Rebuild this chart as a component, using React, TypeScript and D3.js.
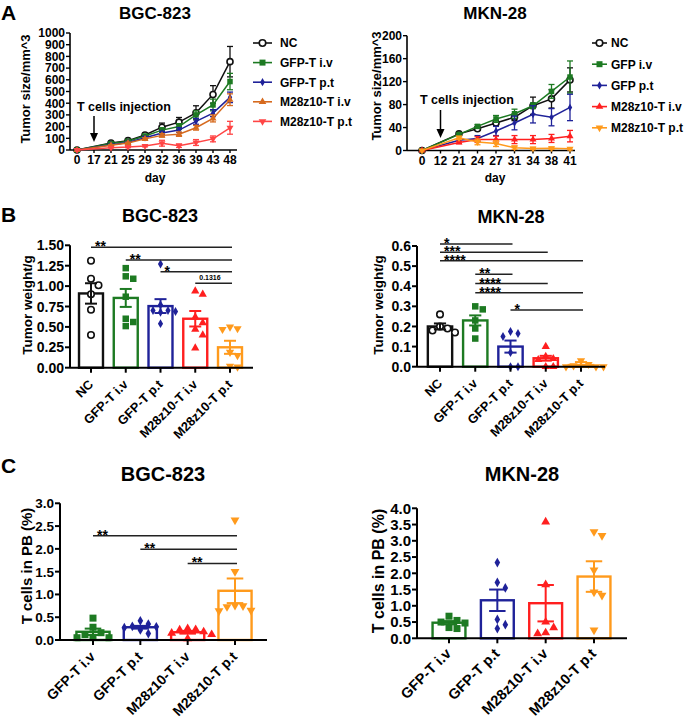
import React from "react";
import * as d3 from "d3";

const FONT = "'Liberation Sans', Arial, Helvetica, sans-serif";

const C_BLACK = "#111111";
const C_GREEN = "#1d7a22";
const C_BLUE = "#1f2299";
const C_RED = "#ff1f1f";
const C_ORANGE = "#ff9a1c";
const C_BROWN = "#d66a1e";
const C_PINK = "#ff4545";

// ---------- Panel A : BGC-823 growth ----------
const aBgcTickDays = ["0", "17", "21", "25", "29", "32", "36", "39", "43", "48"];
const aBgcDays = ["0", "21", "25", "29", "32", "36", "39", "43", "48"];
const aBgcNames = ["NC", "GFP-T i.v", "GFP-T p.t", "M28z10-T i.v", "M28z10-T p.t"];
const aBgcNC = [0, 60, 80, 128, 195, 238, 318, 475, 755];
const aBgcNCErr = [0, 8, 10, 15, 35, 40, 60, 75, 130];
const aBgcGfpIv = [0, 55, 75, 120, 170, 200, 300, 385, 585];
const aBgcGfpIvErr = [0, 5, 8, 12, 20, 25, 35, 50, 70];
const aBgcGfpPt = [0, 45, 65, 105, 145, 170, 245, 315, 450];
const aBgcGfpPtErr = [0, 5, 6, 10, 15, 20, 25, 30, 45];
const aBgcM28Iv = [0, 40, 60, 95, 125, 135, 190, 270, 430];
const aBgcM28IvErr = [0, 5, 6, 10, 15, 18, 20, 30, 50];
const aBgcM28Pt = [0, 20, 25, 35, 58, 37, 64, 95, 190];
const aBgcM28PtErr = [0, 3, 5, 8, 25, 15, 25, 25, 55];
const aBgcYTicks = [0, 100, 200, 300, 400, 500, 600, 700, 800, 900, 1000];

// ---------- Panel A : MKN-28 growth ----------
const aMknTickDays = ["0", "12", "21", "24", "27", "31", "34", "38", "41"];
const aMknDays = ["0", "21", "24", "27", "31", "34", "38", "41"];
const aMknNames = ["NC", "GFP i.v", "GFP p.t", "M28z10-T i.v", "M28z10-T p.t"];
const aMknNC = [0, 29, 38, 48, 58, 78, 90, 123];
const aMknNCErr = [0, 2, 3, 5, 6, 15, 16, 21];
const aMknGfpIv = [0, 28, 42, 55, 64, 78, 103, 128];
const aMknGfpIvErr = [0, 2, 3, 6, 8, 5, 12, 28];
const aMknGfpPt = [0, 18, 21, 34, 48, 63, 58, 75];
const aMknGfpPtErr = [0, 2, 5, 8, 12, 15, 15, 23];
const aMknM28Iv = [0, 14, 19, 19, 19, 19, 21, 25];
const aMknM28IvErr = [0, 2, 5, 6, 7, 7, 7, 10];
const aMknM28Pt = [0, 22, 15, 12, 5, 3.5, 4, 3];
const aMknM28PtErr = [0, 3, 5, 5, 3, 2, 2, 2];
const aMknYTicks = [0, 40, 80, 120, 160, 200];

// ---------- Panel B : tumor weight ----------
const bCats = ["NC", "GFP-T i.v", "GFP-T p.t", "M28z10-T i.v", "M28z10-T p.t"];
const bBgcMean = [0.91, 0.855, 0.755, 0.6, 0.25];
const bBgcSem = [0.125, 0.11, 0.085, 0.095, 0.08];
const bBgcPtsNC = [1.31, 1.09, 1.01, 0.9, 0.71, 0.4];
const bBgcPtsGfpIv = [1.22, 1.12, 1.09, 0.87, 0.6, 0.56, 0.51];
const bBgcPtsGfpPt = [1.27, 0.77, 0.7, 0.69, 0.7, 0.68, 0.54];
const bBgcPtsM28Iv = [0.94, 0.9, 0.62, 0.55, 0.47, 0.4, 0.24];
const bBgcPtsM28Pt = [0.5, 0.48, 0.47, 0.19, 0.15, 0.02, 0.01];
const bBgcYTicks = [0, 0.25, 0.5, 0.75, 1.0, 1.25, 1.5];
const bBgcSigFrom = [0, 1, 2, 3];
const bBgcSigTo = [4, 4, 4, 4];
const bBgcSigLevel = [1.475, 1.32, 1.176, 1.034];
const bBgcSigLabel = ["**", "**", "*", "0.1316"];

const bMknMean = [0.2, 0.23, 0.1, 0.042, 0.008];
const bMknSem = [0.015, 0.025, 0.03, 0.012, 0.015];
const bMknPtsNC = [0.26, 0.2, 0.19, 0.17, 0.18];
const bMknPtsGfpIv = [0.3, 0.285, 0.23, 0.19, 0.14];
const bMknPtsGfpPt = [0.175, 0.165, 0.15, 0.07, 0.0, 0.0];
const bMknPtsM28Iv = [0.1, 0.05, 0.04, 0.035, 0.0, 0.0];
const bMknPtsM28Pt = [0.03, 0.012, 0.005, 0.0, 0.0, 0.0];
const bMknYTicks = [0, 0.1, 0.2, 0.3, 0.4, 0.5, 0.6];
const bMknSigFrom = [0, 0, 0, 1, 1, 1, 2];
const bMknSigTo = [2, 3, 4, 2, 3, 4, 4];
const bMknSigLevel = [0.61, 0.569, 0.527, 0.46, 0.413, 0.367, 0.282];
const bMknSigLabel = ["*", "***", "****", "**", "****", "****", "*"];

// ---------- Panel C : T cells in PB ----------
const cCats = ["GFP-T i.v", "GFP-T p.t", "M28z10-T i.v", "M28z10-T p.t"];
const cBgcMean = [0.18, 0.28, 0.17, 1.08];
const cBgcSem = [0.07, 0.03, 0.03, 0.27];
const cBgcPtsGfpIv = [0.48, 0.28, 0.16, 0.12, 0.06, 0.05, 0.05];
const cBgcPtsGfpPt = [0.42, 0.35, 0.3, 0.29, 0.27, 0.22, 0.14];
const cBgcPtsM28Iv = [0.25, 0.23, 0.22, 0.18, 0.15, 0.12, 0.03];
const cBgcPtsM28Pt = [2.63, 1.5, 0.76, 0.75, 0.73, 0.65, 0.64];
const cBgcYTicks = [0, 0.5, 1.0, 1.5, 2.0, 2.5, 3.0];
const cBgcSigFrom = [0, 1, 2];
const cBgcSigTo = [3, 3, 3];
const cBgcSigLevel = [2.29, 1.99, 1.68];
const cBgcSigLabel = ["**", "**", "**"];

const cMknMean = [0.48, 1.17, 1.08, 1.9];
const cMknSem = [0.05, 0.33, 0.56, 0.47];
const cMknPtsGfpIv = [0.68, 0.55, 0.5, 0.47, 0.33, 0.3];
const cMknPtsGfpPt = [2.33, 1.72, 1.55, 0.58, 0.42, 0.3];
const cMknPtsM28Iv = [3.58, 1.65, 0.5, 0.33, 0.14, 0.17];
const cMknPtsM28Pt = [3.28, 3.16, 2.1, 1.42, 1.32, 0.25];
const cMknYTicks = [0, 0.5, 1.0, 1.5, 2.0, 2.5, 3.0, 3.5, 4.0];

type Shape = "circle" | "square" | "diamond" | "triUp" | "triDown";

function symbolPath(shape: Shape, size: number): string {
  let type: any;
  let area: number;
  switch (shape) {
    case "circle":
      type = d3.symbolCircle;
      area = Math.PI * (size / 2) * (size / 2);
      break;
    case "square":
      type = d3.symbolSquare;
      area = size * size;
      break;
    case "diamond":
      type = d3.symbolDiamond;
      area = size * size * 0.55;
      break;
    default:
      type = d3.symbolTriangle;
      area = size * size * 0.7;
  }
  return d3.symbol().type(type).size(area)() as string;
}

function Marker(props: { shape: Shape; x: number; y: number; size: number; color: string; open?: boolean }) {
  const { shape, x, y, size, color, open } = props;
  return (
    <path
      d={symbolPath(shape, size)}
      transform={`translate(${x},${y})${shape === "triDown" ? " rotate(180)" : ""}`}
      fill={open ? "#fff" : color}
      stroke={color}
      strokeWidth={open ? 1.6 : 0}
    />
  );
}

function dodge(ys: number[], step: number, minDist: number): number[] {
  const order = ys.map((y, i) => [y, i] as [number, number]).sort((a, b) => a[0] - b[0]);
  const placed: { x: number; y: number }[] = [];
  const out = new Array(ys.length).fill(0);
  const cands = [0];
  for (let j = 1; j < 8; j++) cands.push(j * step, -j * step);
  for (const [y, i] of order) {
    let dx = 0;
    for (const c of cands) {
      if (placed.every((p) => Math.hypot(p.x - c, p.y - y) >= minDist)) {
        dx = c;
        break;
      }
    }
    placed.push({ x: dx, y });
    out[i] = dx;
  }
  return out;
}

type Series = { name: string; values: number[]; errors: number[]; color: string; shape: Shape; open?: boolean };

function LinePanel(p: {
  letter?: string;
  title: string;
  titleX: number;
  tickDays: string[];
  days: string[];
  series: Series[];
  yMax: number;
  yTicks: number[];
  yAxisX: number;
  xRange: [number, number];
  xAxisEnd: number;
  yRange: [number, number];
  yLabel: string;
  yLabelX: number;
  yLabelY: number;
  injDay: string;
  injTextX: number;
  injTextY: number;
  arrow: [number, number];
  legendX: number;
  legendLine: number;
  legendTextX: number;
  legendY0: number;
  legendStep: number;
  dayX: number;
}) {
  const x = d3.scalePoint<string>().domain(p.tickDays).range(p.xRange);
  const y = d3.scaleLinear().domain([0, p.yMax]).range(p.yRange);
  const line = d3
    .line<[string, number]>()
    .x((d) => x(d[0]) as number)
    .y((d) => y(d[1]));
  const ax = x(p.injDay) as number;
  return (
    <g fontWeight="bold" fill="#000">
      {p.letter && (
        <text x={1} y={20} fontSize={21}>
          {p.letter}
        </text>
      )}
      <text x={p.titleX} y={19} fontSize={17} textAnchor="middle">
        {p.title}
      </text>
      <line x1={p.yAxisX} x2={p.yAxisX} y1={y(p.yMax)} y2={y(0)} stroke="#000" strokeWidth={1.6} />
      {p.yTicks.map((t) => (
        <g key={t}>
          <line x1={p.yAxisX - 4} x2={p.yAxisX} y1={y(t)} y2={y(t)} stroke="#000" strokeWidth={1.4} />
          <text x={p.yAxisX - 5} y={y(t)} dy="0.36em" textAnchor="end" fontSize={12}>
            {t}
          </text>
        </g>
      ))}
      <line x1={p.yAxisX} x2={p.xAxisEnd} y1={y(0)} y2={y(0)} stroke="#000" strokeWidth={1.6} />
      {p.tickDays.map((d) => (
        <g key={d}>
          <line x1={x(d)} x2={x(d)} y1={y(0)} y2={y(0) + 3} stroke="#000" strokeWidth={1.4} />
          <text x={x(d)} y={y(0) + 14} textAnchor="middle" fontSize={12}>
            {d}
          </text>
        </g>
      ))}
      <text x={p.dayX} y={182} textAnchor="middle" fontSize={12}>
        day
      </text>
      <text transform={`translate(${p.yLabelX},${p.yLabelY}) rotate(-90)`} textAnchor="middle" fontSize={13}>
        {p.yLabel}
      </text>
      <text x={p.injTextX} y={p.injTextY} fontSize={12.5}>
        T cells injection
      </text>
      <line x1={ax} x2={ax} y1={p.arrow[0]} y2={p.arrow[1] - 7} stroke="#000" strokeWidth={1.5} />
      <path d={`M${ax - 4},${p.arrow[1] - 9}L${ax + 4},${p.arrow[1] - 9}L${ax},${p.arrow[1]}Z`} fill="#000" />
      {p.series.map((s) => {
        const pts = p.days.map((d, i) => [d, s.values[i]] as [string, number]);
        return (
          <g key={s.name}>
            <path d={line(pts) as string} fill="none" stroke={s.color} strokeWidth={1.5} />
            {pts.map(([d, v], i) =>
              s.errors[i] > 0 ? (
                <g key={d} stroke={s.color} strokeWidth={1.3}>
                  <line x1={x(d)} x2={x(d)} y1={y(v - s.errors[i])} y2={y(v + s.errors[i])} />
                  <line x1={(x(d) as number) - 3} x2={(x(d) as number) + 3} y1={y(v + s.errors[i])} y2={y(v + s.errors[i])} />
                  <line x1={(x(d) as number) - 3} x2={(x(d) as number) + 3} y1={y(v - s.errors[i])} y2={y(v - s.errors[i])} />
                </g>
              ) : null
            )}
            {pts.map(([d, v]) => (
              <Marker key={d} shape={s.shape} x={x(d) as number} y={y(v)} size={s.shape === "circle" ? 6 : 5.5} color={s.color} open={s.open} />
            ))}
          </g>
        );
      })}
      {p.series.map((s, i) => {
        const ly = p.legendY0 + i * p.legendStep;
        return (
          <g key={"lg" + s.name}>
            <line x1={p.legendX} x2={p.legendX + p.legendLine} y1={ly} y2={ly} stroke={s.color} strokeWidth={1.6} />
            <Marker shape={s.shape} x={p.legendX + p.legendLine / 2} y={ly} size={s.shape === "circle" ? 6.5 : 6} color={s.color} open={s.open} />
            <text x={p.legendTextX} y={ly} dy="0.36em" fontSize={12}>
              {s.name}
            </text>
          </g>
        );
      })}
    </g>
  );
}

function BarPanel(p: {
  letter?: string;
  letterY?: number;
  title: string;
  titleX: number;
  titleY: number;
  titleSize: number;
  cats: string[];
  means: number[];
  sems: number[];
  points: number[][];
  colors: string[];
  shapes: Shape[];
  opens: boolean[];
  yMax: number;
  yTicks: number[];
  tickFmt: string;
  yAxisX: number;
  y0: number;
  y1: number;
  centers: [number, number];
  barFrac: number;
  xAxisEnd: number;
  yLabel: string;
  yLabelX: number;
  yLabelY: number;
  yLabelSize: number;
  tickSize: number;
  xLabelSize: number;
  xLabelDy: number;
  markerSize: number;
  sigFrom?: number[];
  sigTo?: number[];
  sigLevel?: number[];
  sigLabel?: string[];
}) {
  const x = d3.scalePoint<string>().domain(p.cats).range(p.centers);
  const bw = x.step() * p.barFrac;
  const y = d3.scaleLinear().domain([0, p.yMax]).range([p.y0, p.y1]);
  const fmt = d3.format(p.tickFmt);
  return (
    <g fontWeight="bold" fill="#000">
      {p.letter && (
        <text x={1} y={p.letterY} fontSize={21}>
          {p.letter}
        </text>
      )}
      <text x={p.titleX} y={p.titleY} fontSize={p.titleSize} textAnchor="middle">
        {p.title}
      </text>
      <text transform={`translate(${p.yLabelX},${p.yLabelY}) rotate(-90)`} textAnchor="middle" fontSize={p.yLabelSize}>
        {p.yLabel}
      </text>
      {p.cats.map((c, i) => {
        const cx = x(c) as number;
        const top = y(p.means[i]);
        const offs = dodge(p.points[i].map((v) => y(v)), p.markerSize + 1, p.markerSize + 0.8);
        const hi = y(p.means[i] + p.sems[i]);
        const lo = y(Math.max(0, p.means[i] - p.sems[i]));
        const cap = bw * 0.25;
        return (
          <g key={c}>
            <rect x={cx - bw / 2} y={top} width={bw} height={Math.max(0, y(0) - top)} fill="#fff" stroke={p.colors[i]} strokeWidth={2.4} />
            {p.points[i].map((v, j) => (
              <Marker key={j} shape={p.shapes[i]} x={cx + offs[j]} y={y(v)} size={p.markerSize} color={p.colors[i]} open={p.opens[i]} />
            ))}
            <g stroke={p.colors[i]} strokeWidth={2}>
              <line x1={cx} x2={cx} y1={hi} y2={lo} />
              <line x1={cx - cap} x2={cx + cap} y1={hi} y2={hi} />
              <line x1={cx - cap} x2={cx + cap} y1={lo} y2={lo} />
            </g>
          </g>
        );
      })}
      <line x1={p.yAxisX} x2={p.yAxisX} y1={y(p.yMax)} y2={y(0)} stroke="#000" strokeWidth={2} />
      {p.yTicks.map((t) => (
        <g key={t}>
          <line x1={p.yAxisX - 5} x2={p.yAxisX} y1={y(t)} y2={y(t)} stroke="#000" strokeWidth={2} />
          <text x={p.yAxisX - 6} y={y(t)} dy="0.36em" textAnchor="end" fontSize={p.tickSize}>
            {fmt(t)}
          </text>
        </g>
      ))}
      <line x1={p.yAxisX} x2={p.xAxisEnd} y1={y(0)} y2={y(0)} stroke="#000" strokeWidth={2} />
      {p.cats.map((c) => {
        const cx = x(c) as number;
        return (
          <g key={"xl" + c}>
            <line x1={cx} x2={cx} y1={y(0)} y2={y(0) + 5} stroke="#000" strokeWidth={2} />
            <text transform={`translate(${cx + 3},${y(0) + p.xLabelDy}) rotate(-45)`} textAnchor="end" fontSize={p.xLabelSize}>
              {c}
            </text>
          </g>
        );
      })}
      {(p.sigFrom || []).map((f, k) => {
        const x1 = x(p.cats[f]) as number;
        const x2 = (x(p.cats[p.sigTo![k]]) as number) + 2;
        const ly = y(p.sigLevel![k]);
        const lab = p.sigLabel![k];
        const isNum = /\d/.test(lab);
        return (
          <g key={"sig" + k}>
            <line x1={x1} x2={x2} y1={ly} y2={ly} stroke="#222" strokeWidth={1.5} />
            <text x={x1 + 4} y={isNum ? ly - 3 : ly + 4} fontSize={isNum ? 7 : 14}>
              {lab}
            </text>
          </g>
        );
      })}
    </g>
  );
}

export default function App() {
  const bColors = [C_BLACK, C_GREEN, C_BLUE, C_RED, C_ORANGE];
  const bShapes: Shape[] = ["circle", "square", "diamond", "triUp", "triDown"];
  const bOpens = [true, false, false, false, false];
  const cColors = [C_GREEN, C_BLUE, C_RED, C_ORANGE];
  const cShapes: Shape[] = ["square", "diamond", "triUp", "triDown"];
  const cOpens = [false, false, false, false];

  const bgcSeries: Series[] = [
    { name: aBgcNames[0], values: aBgcNC, errors: aBgcNCErr, color: C_BLACK, shape: "circle", open: true },
    { name: aBgcNames[1], values: aBgcGfpIv, errors: aBgcGfpIvErr, color: C_GREEN, shape: "square" },
    { name: aBgcNames[2], values: aBgcGfpPt, errors: aBgcGfpPtErr, color: C_BLUE, shape: "diamond" },
    { name: aBgcNames[3], values: aBgcM28Iv, errors: aBgcM28IvErr, color: C_BROWN, shape: "triUp" },
    { name: aBgcNames[4], values: aBgcM28Pt, errors: aBgcM28PtErr, color: C_PINK, shape: "triDown" },
  ];
  const mknSeries: Series[] = [
    { name: aMknNames[0], values: aMknNC, errors: aMknNCErr, color: C_BLACK, shape: "circle", open: true },
    { name: aMknNames[1], values: aMknGfpIv, errors: aMknGfpIvErr, color: C_GREEN, shape: "square" },
    { name: aMknNames[2], values: aMknGfpPt, errors: aMknGfpPtErr, color: C_BLUE, shape: "diamond" },
    { name: aMknNames[3], values: aMknM28Iv, errors: aMknM28IvErr, color: C_RED, shape: "triUp" },
    { name: aMknNames[4], values: aMknM28Pt, errors: aMknM28PtErr, color: C_ORANGE, shape: "triDown" },
  ];

  return (
    <svg width={685} height={720} style={{ position: "absolute", left: 0, top: 0, background: "#fff" }} fontFamily={FONT}>
      <rect width={685} height={720} fill="#fff" />
      <LinePanel
        letter="A"
        title="BGC-823"
        titleX={155}
        tickDays={aBgcTickDays}
        days={aBgcDays}
        series={bgcSeries}
        yMax={1000}
        yTicks={aBgcYTicks}
        yAxisX={70}
        xRange={[77, 230]}
        xAxisEnd={237}
        yRange={[150, 33]}
        yLabel="Tumor size/mm^3"
        yLabelX={30}
        yLabelY={89}
        injDay="17"
        injTextX={77}
        injTextY={111}
        arrow={[116, 142]}
        legendX={253}
        legendLine={19}
        legendTextX={280}
        legendY0={43}
        legendStep={19.6}
        dayX={155}
      />
      <LinePanel
        title="MKN-28"
        titleX={495}
        tickDays={aMknTickDays}
        days={aMknDays}
        series={mknSeries}
        yMax={200}
        yTicks={aMknYTicks}
        yAxisX={407}
        xRange={[422, 570]}
        xAxisEnd={575}
        yRange={[150.5, 35.7]}
        yLabel="Tumor size/mm^3"
        yLabelX={381}
        yLabelY={86}
        injDay="12"
        injTextX={420}
        injTextY={104}
        arrow={[110, 138]}
        legendX={592}
        legendLine={15}
        legendTextX={611}
        legendY0={43}
        legendStep={21.2}
        dayX={495}
      />
      <BarPanel
        letter="B"
        letterY={222}
        title="BGC-823"
        titleX={160}
        titleY={222}
        titleSize={18}
        cats={bCats}
        means={bBgcMean}
        sems={bBgcSem}
        points={[bBgcPtsNC, bBgcPtsGfpIv, bBgcPtsGfpPt, bBgcPtsM28Iv, bBgcPtsM28Pt]}
        colors={bColors}
        shapes={bShapes}
        opens={bOpens}
        yMax={1.5}
        yTicks={bBgcYTicks}
        tickFmt=".2f"
        yAxisX={70}
        y0={367.7}
        y1={245.3}
        centers={[91, 230]}
        barFrac={0.69}
        xAxisEnd={253}
        yLabel="Tumor weight/g"
        yLabelX={32}
        yLabelY={305}
        yLabelSize={13.5}
        tickSize={14}
        xLabelSize={12.8}
        xLabelDy={17.5}
        markerSize={6.5}
        sigFrom={bBgcSigFrom}
        sigTo={bBgcSigTo}
        sigLevel={bBgcSigLevel}
        sigLabel={bBgcSigLabel}
      />
      <BarPanel
        title="MKN-28"
        titleX={511}
        titleY={223}
        titleSize={18}
        cats={bCats}
        means={bMknMean}
        sems={bMknSem}
        points={[bMknPtsNC, bMknPtsGfpIv, bMknPtsGfpPt, bMknPtsM28Iv, bMknPtsM28Pt]}
        colors={bColors}
        shapes={bShapes}
        opens={bOpens}
        yMax={0.6}
        yTicks={bMknYTicks}
        tickFmt=".1f"
        yAxisX={417}
        y0={366.7}
        y1={246}
        centers={[440, 581]}
        barFrac={0.69}
        xAxisEnd={605}
        yLabel="Tumor weight/g"
        yLabelX={383}
        yLabelY={305}
        yLabelSize={13.5}
        tickSize={14}
        xLabelSize={12.8}
        xLabelDy={17.5}
        markerSize={6.5}
        sigFrom={bMknSigFrom}
        sigTo={bMknSigTo}
        sigLevel={bMknSigLevel}
        sigLabel={bMknSigLabel}
      />
      <BarPanel
        letter="C"
        letterY={473}
        title="BGC-823"
        titleX={163}
        titleY={481}
        titleSize={20}
        cats={cCats}
        means={cBgcMean}
        sems={cBgcSem}
        points={[cBgcPtsGfpIv, cBgcPtsGfpPt, cBgcPtsM28Iv, cBgcPtsM28Pt]}
        colors={cColors}
        shapes={cShapes}
        opens={cOpens}
        yMax={3}
        yTicks={cBgcYTicks}
        tickFmt=".1f"
        yAxisX={60}
        y0={640}
        y1={503.3}
        centers={[93, 235]}
        barFrac={0.7}
        xAxisEnd={267}
        yLabel="T cells in PB (%)"
        yLabelX={32}
        yLabelY={566}
        yLabelSize={15}
        tickSize={13.5}
        xLabelSize={14}
        xLabelDy={17.5}
        markerSize={7}
        sigFrom={cBgcSigFrom}
        sigTo={cBgcSigTo}
        sigLevel={cBgcSigLevel}
        sigLabel={cBgcSigLabel}
      />
      <BarPanel
        title="MKN-28"
        titleX={522}
        titleY={481}
        titleSize={20}
        cats={cCats}
        means={cMknMean}
        sems={cMknSem}
        points={[cMknPtsGfpIv, cMknPtsGfpPt, cMknPtsM28Iv, cMknPtsM28Pt]}
        colors={cColors}
        shapes={cShapes}
        opens={cOpens}
        yMax={4}
        yTicks={cMknYTicks}
        tickFmt=".1f"
        yAxisX={417}
        y0={638.3}
        y1={508.3}
        centers={[449, 594]}
        barFrac={0.68}
        xAxisEnd={627}
        yLabel="T cells in PB (%)"
        yLabelX={384}
        yLabelY={571}
        yLabelSize={16}
        tickSize={15}
        xLabelSize={14.6}
        xLabelDy={16.3}
        markerSize={7}
      />
    </svg>
  );
}
